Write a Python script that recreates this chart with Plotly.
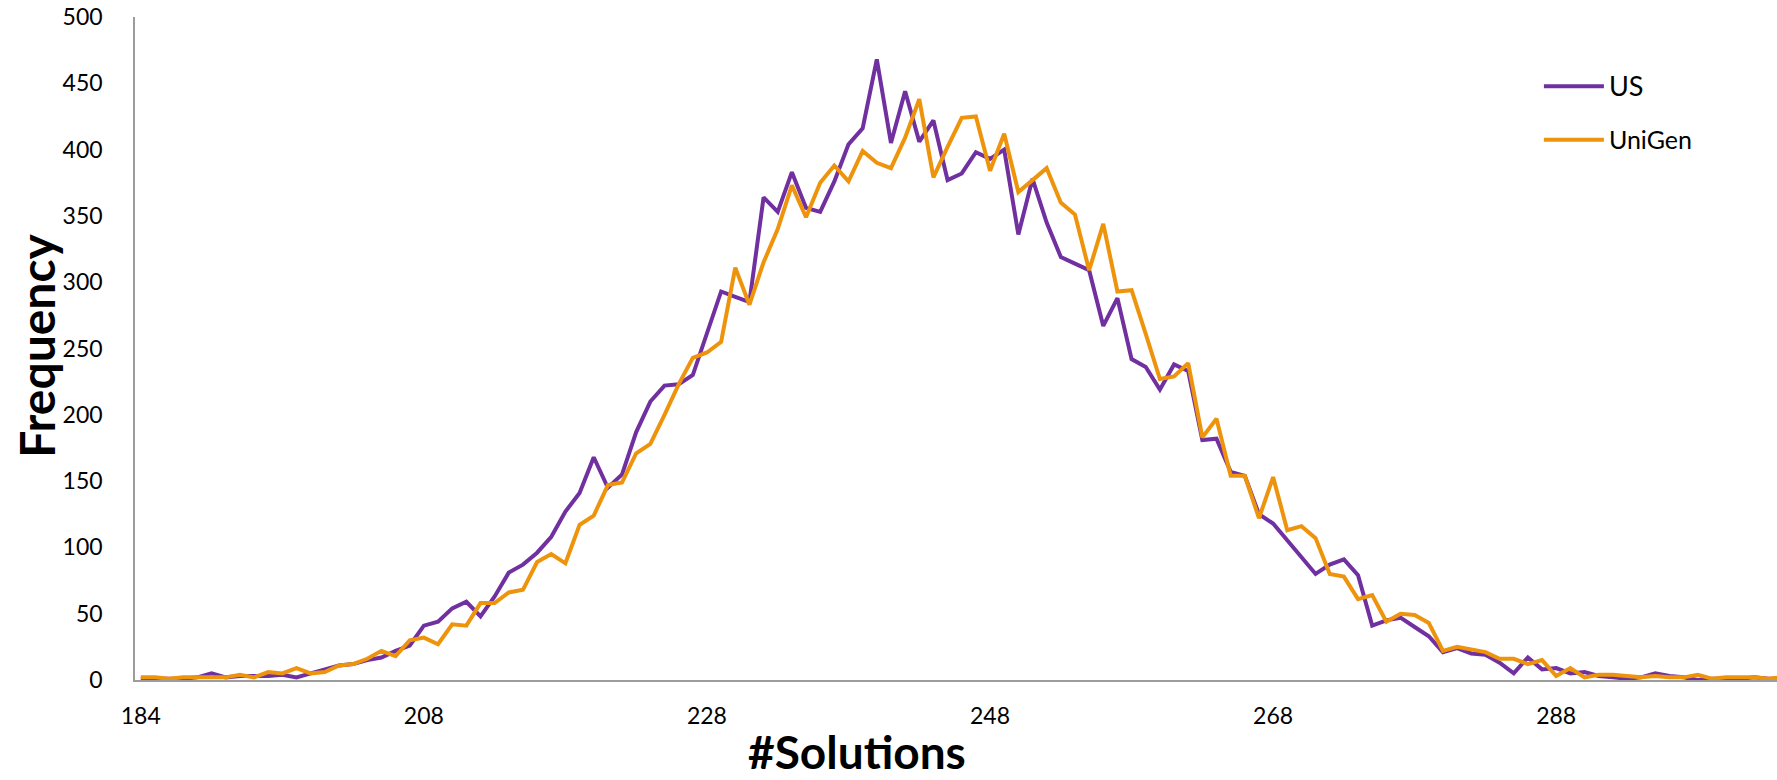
import plotly.graph_objects as go

# Categories (#Solutions); the axis is categorical: 184, then 189..304
solutions = [184] + list(range(189, 305))
tick_labels = ["184", "208", "228", "248", "268", "288"]

us = [1, 1, 1, 1, 2, 5, 2, 3, 3, 3, 4, 2, 5, 8, 11, 12, 15, 17, 22, 26,
      41, 44, 54, 59, 48, 63, 81, 87, 96, 108, 127, 141, 168, 145, 155, 187, 210, 222, 223, 230,
      262, 293, 289, 285, 364, 353, 383, 356, 353, 376, 404, 416, 468, 405, 444, 406, 422, 377, 382, 398,
      393, 400, 336, 378, 345, 319, 314, 309, 267, 288, 242, 236, 219, 238, 233, 181, 182, 157, 154, 125,
      118, 105, 93, 80, 87, 91, 79, 41, 45, 47, 40, 33, 21, 24, 20, 19, 13, 5, 17, 8,
      9, 5, 6, 3, 2, 1, 2, 5, 3, 2, 0, 1, 1, 1, 2, 1, 1]

unigen = [2, 2, 1, 2, 2, 2, 2, 4, 2, 6, 5, 9, 5, 6, 11, 12, 16, 22, 18, 30,
          32, 27, 42, 41, 58, 58, 66, 68, 89, 95, 88, 117, 124, 147, 149, 171, 178, 200, 223, 243,
          247, 255, 311, 283, 315, 340, 373, 349, 375, 388, 376, 399, 390, 386, 409, 438, 379, 402, 424, 425,
          384, 412, 368, 377, 386, 360, 351, 309, 344, 293, 294, 261, 227, 229, 239, 183, 197, 154, 154, 122,
          153, 113, 116, 107, 80, 78, 61, 64, 44, 50, 49, 43, 22, 25, 23, 21, 16, 16, 12, 15,
          3, 9, 2, 4, 4, 3, 2, 3, 2, 2, 4, 1, 2, 2, 2, 1, 2]

cats = [str(v) for v in solutions]
FONT = "Lato"
PURPLE = "#7030A0"
ORANGE = "#EE940C"

fig = go.Figure()
fig.add_trace(go.Scatter(x=cats, y=us, mode="lines",
                         name="<span style='font-size:27px'>US</span>",
                         line=dict(color=PURPLE, width=4), legendgroup="a"))
fig.add_trace(go.Scatter(x=cats, y=unigen, mode="lines", name="UniGen",
                         line=dict(color=ORANGE, width=4), legendgroup="b"))

fig.update_layout(
    width=1777, height=780, autosize=False,
    margin=dict(l=135, r=0, t=17, b=100),
    paper_bgcolor="white", plot_bgcolor="white",
    font=dict(family=FONT, color="#000000"),
    showlegend=True,
    legend=dict(x=0.855, y=0.93, xanchor="left", yanchor="top",
                font=dict(family=FONT, size=25, color="#000000"),
                tracegroupgap=18, bgcolor="rgba(0,0,0,0)", itemwidth=60),
    xaxis=dict(type="category", range=[-0.41, 115.6],
               tickmode="array", tickvals=tick_labels, ticktext=tick_labels,
               showline=True, linecolor="#9C9C9C", linewidth=1.5,
               showgrid=False, zeroline=False, ticks="",
               tickfont=dict(family=FONT, size=23, color="#000000"),
               ticklabelstandoff=15),
    yaxis=dict(range=[0, 500], dtick=50, tick0=0,
               showline=True, linecolor="#9C9C9C", linewidth=1.5,
               showgrid=False, zeroline=False, ticks="",
               tickfont=dict(family=FONT, size=23, color="#000000"),
               ticklabelstandoff=26),
    annotations=[
        dict(text="<b>Frequency</b>", xref="paper", yref="paper",
             x=-0.0598, y=0.504, xanchor="center", yanchor="middle",
             textangle=-90, showarrow=False,
             font=dict(family=FONT, size=48, color="#000000")),
        dict(text="<b>#Solutions</b>", xref="paper", yref="paper",
             x=0.4398, y=-0.1518, xanchor="center", yanchor="bottom",
             showarrow=False,
             font=dict(family=FONT, size=46, color="#000000")),
    ],
)

fig.write_html("out.html", config={"displayModeBar": False},
               post_script="document.body.style.margin='0px';document.body.style.overflow='hidden';")
